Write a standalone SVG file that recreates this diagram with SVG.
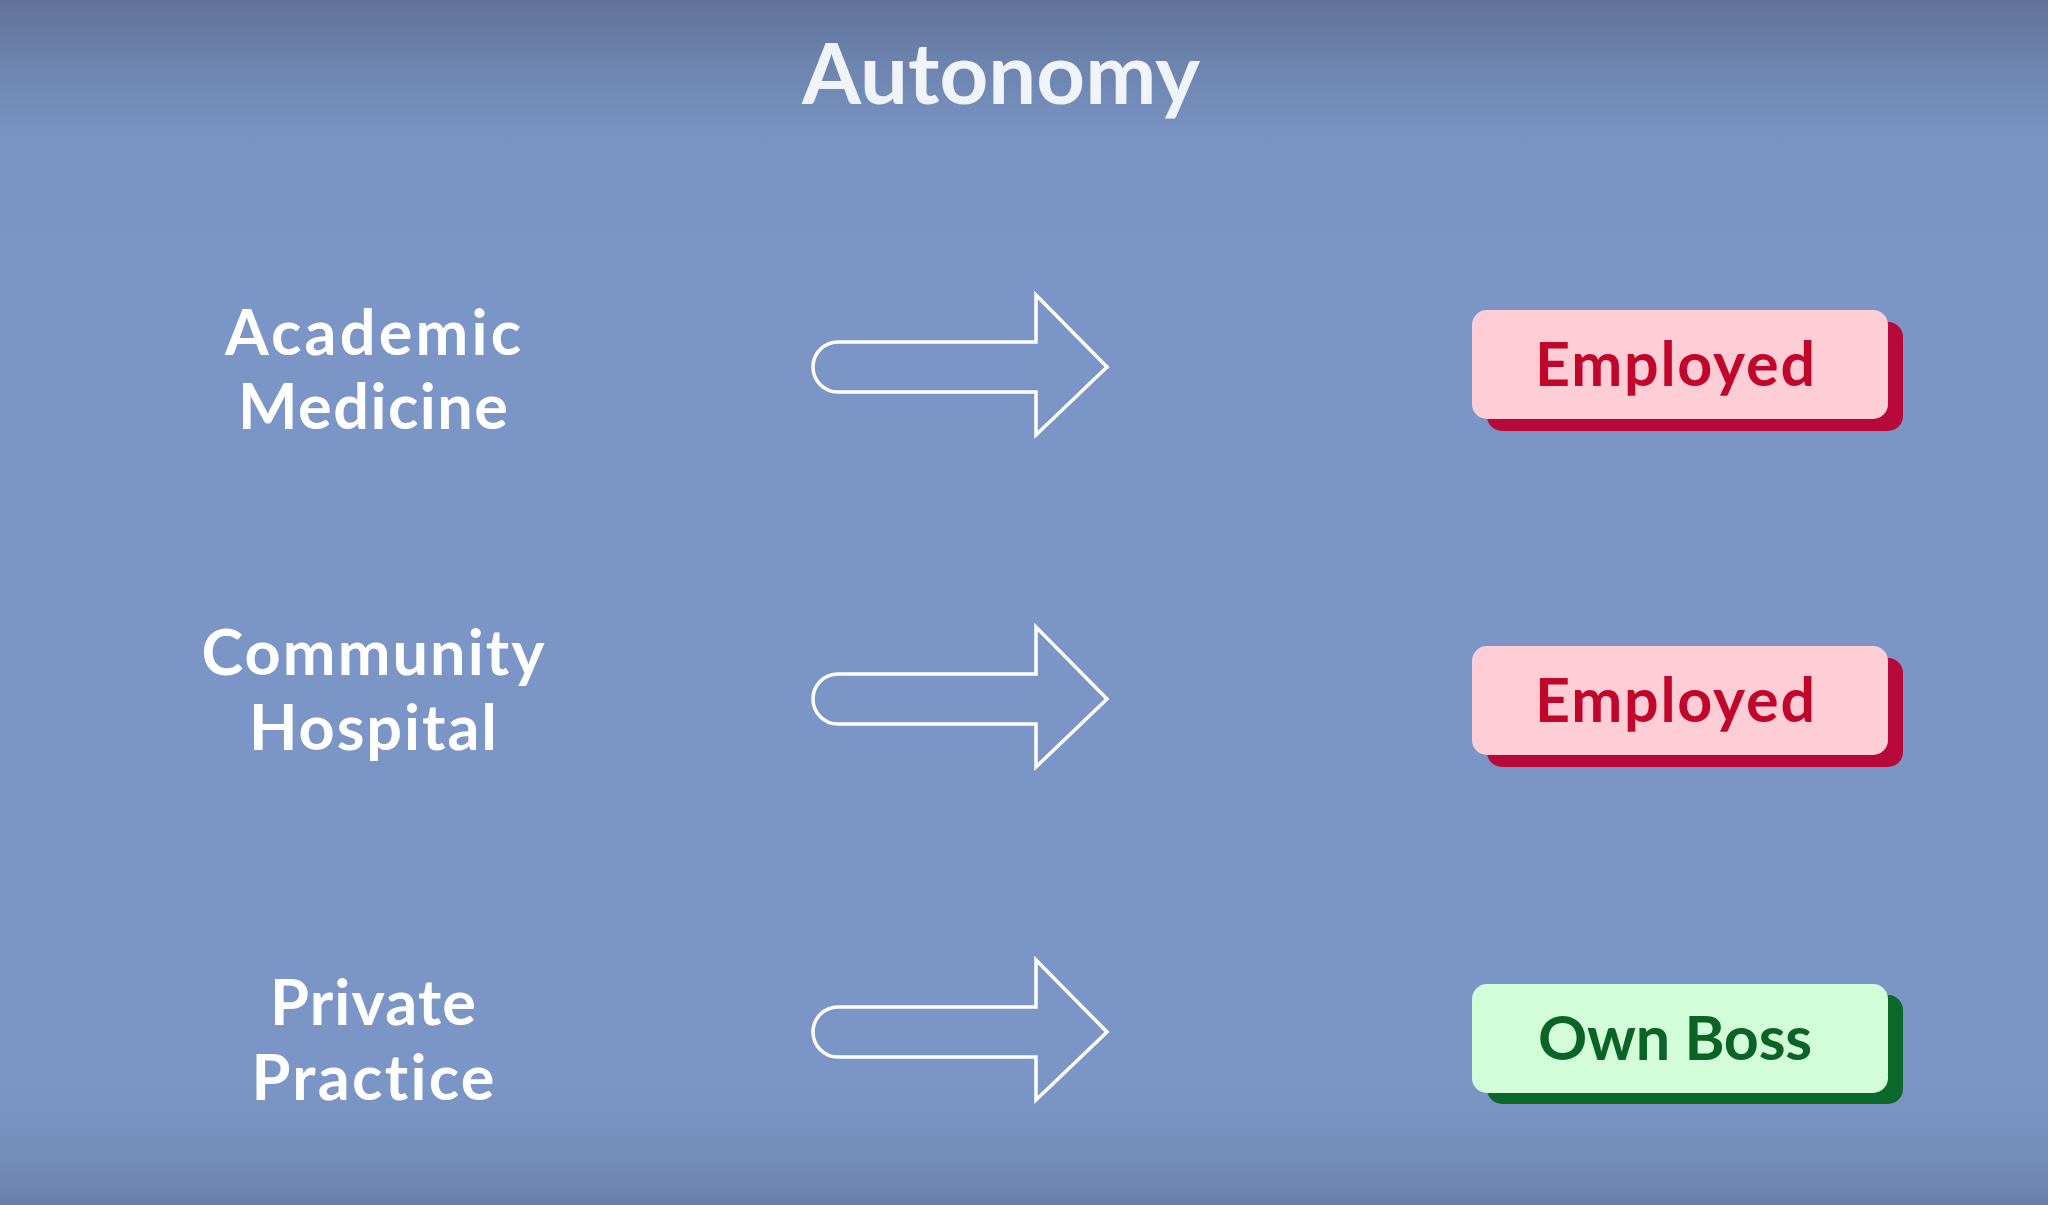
<svg xmlns="http://www.w3.org/2000/svg" width="2048" height="1205" viewBox="0 0 2048 1205">
  <defs>
    <linearGradient id="bg" x1="0" y1="0" x2="0" y2="1">
      <stop offset="0" stop-color="#617398"/>
      <stop offset="0.05" stop-color="#6c83ad"/>
      <stop offset="0.11" stop-color="#7892c2"/>
      <stop offset="0.2" stop-color="#7b96c6"/>
      <stop offset="0.9" stop-color="#7b96c6"/>
      <stop offset="0.96" stop-color="#758dbb"/>
      <stop offset="1" stop-color="#6a80ab"/>
    </linearGradient>
    <path id="arrow" d="M 0 -25 L 198 -25 L 198 -72 L 269 0 L 198 68 L 198 25 L 0 25 A 25 25 0 0 1 0 -25 Z"/>
  </defs>
  <style>
    text { font-variant-ligatures: none; font-family: Lato, "Open Sans", "Liberation Sans", sans-serif; font-weight: 700; text-anchor: middle; }
    .label { fill: #ffffff; font-size: 63px; }
    .title { fill: #f0f3f8; font-size: 85px; }
    .arrow { fill: none; stroke: #ffffff; stroke-width: 3.5; stroke-linejoin: miter; }
    .boxtext { font-size: 61px; }
    .red .face { fill: #ffcdd5; }
    .red .shadow { fill: #b8073a; }
    .red text { fill: #c1062b; }
    .green .face { fill: #d3fcd9; }
    .green .shadow { fill: #0b6a2b; }
    .green text { fill: #0b6328; }
  </style>
  <rect x="0" y="0" width="2048" height="1205" fill="url(#bg)"/>
  <text class="title" x="1001" y="104" textLength="398" lengthAdjust="spacing">Autonomy</text>

  <g id="academic-medicine">
    <text class="label" x="373" y="355" textLength="296" lengthAdjust="spacing">Academic</text>
    <text class="label" x="373" y="429" textLength="270" lengthAdjust="spacing">Medicine</text>
  </g>
  <g id="community-hospital">
    <text class="label" x="373" y="675" textLength="343" lengthAdjust="spacing">Community</text>
    <text class="label" x="373" y="750" textLength="248" lengthAdjust="spacing">Hospital</text>
  </g>
  <g id="private-practice">
    <text class="label" x="373" y="1025" textLength="206" lengthAdjust="spacing">Private</text>
    <text class="label" x="373" y="1100" textLength="243" lengthAdjust="spacing">Practice</text>
  </g>

  <g id="connectors">
    <use href="#arrow" class="arrow" x="838" y="367"/>
    <use href="#arrow" class="arrow" x="838" y="699"/>
    <use href="#arrow" class="arrow" x="838" y="1032"/>
  </g>

  <g id="employed-1" class="red">
    <rect class="shadow" x="1487" y="322" width="416" height="109" rx="15"/>
    <rect class="face" x="1472" y="310" width="416" height="109" rx="15"/>
    <text class="boxtext" x="1675" y="386" textLength="280" lengthAdjust="spacing">Employed</text>
  </g>
  <g id="employed-2" class="red">
    <rect class="shadow" x="1487" y="658" width="416" height="109" rx="15"/>
    <rect class="face" x="1472" y="646" width="416" height="109" rx="15"/>
    <text class="boxtext" x="1675" y="722" textLength="280" lengthAdjust="spacing">Employed</text>
  </g>
  <g id="own-boss" class="green">
    <rect class="shadow" x="1487" y="995" width="416" height="109" rx="15"/>
    <rect class="face" x="1472" y="984" width="416" height="109" rx="15"/>
    <text class="boxtext" x="1675" y="1060" textLength="274" lengthAdjust="spacing">Own Boss</text>
  </g>
</svg>
